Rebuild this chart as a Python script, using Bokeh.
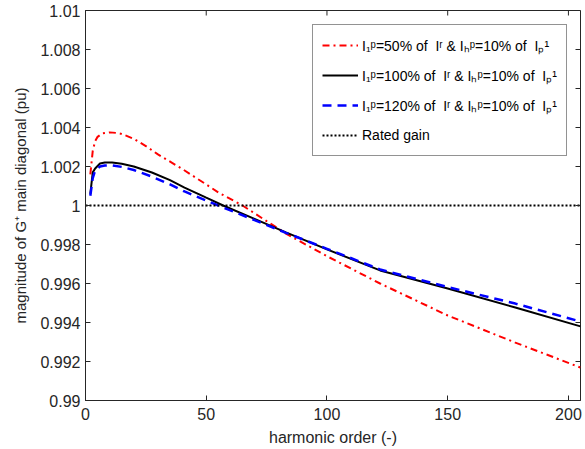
import math
from bokeh.plotting import figure
from bokeh.models import Legend, LegendItem, Range1d, FixedTicker
from bokeh.embed import file_html
from bokeh.resources import INLINE

# harmonic order and gain magnitude for each loading case
h_red = [2, 3, 4, 5, 7, 10, 13, 15, 20, 25, 30, 40, 50, 55, 65, 83, 100, 122, 150, 178, 205]
g_red = [1.0016, 1.0028, 1.0033, 1.00352, 1.00370, 1.00375, 1.00372, 1.00367, 1.00342,
         1.00305, 1.00262, 1.00188, 1.00108, 1.00067, 1.0, 0.99856, 0.99740, 0.99600,
         0.99436, 0.99297, 0.99169]

h_black = [2, 3, 4, 6, 8, 11, 15, 20, 27.5, 35, 41, 50, 57, 70, 83, 100, 122, 150, 178, 205]
g_black = [1.0006, 1.0017, 1.0019, 1.00215, 1.00220, 1.00221, 1.00214, 1.00200, 1.00169,
           1.00130, 1.00092, 1.00040, 1.0, 0.99931, 0.99862, 0.99775, 0.99667, 0.99574,
           0.99477, 0.99380]

h_blue = [2, 3, 4, 6, 8, 11, 15, 20, 27.5, 35, 41, 50, 55, 70, 83, 100, 122, 150, 178, 205]
g_blue = [1.0005, 1.0014, 1.0018, 1.00200, 1.00205, 1.00206, 1.00198, 1.00182, 1.00148,
          1.00108, 1.00072, 1.00025, 1.0, 0.99925, 0.99860, 0.99778, 0.99672, 0.99582,
          0.99497, 0.99405]

rated_h = [0, 205]
rated_g = [1.0, 1.0]

x_min, x_max = 0, 205
y_min, y_max = 0.99, 1.01
x_ticks = [0, 50, 100, 150, 200]
y_ticks = [0.99, 0.992, 0.994, 0.996, 0.998, 1.0, 1.002, 1.004, 1.006, 1.008, 1.01]
y_tick_labels = ["0.99", "0.992", "0.994", "0.996", "0.998", "1",
                 "1.002", "1.004", "1.006", "1.008", "1.01"]

legend_labels = [
    "I\u2081\u1D56=50% of  I\u02B3 & I\u2095\u1D56=10% of  I\u209A\u00B9",
    "I\u2081\u1D56=100% of  I\u02B3 & I\u2095\u1D56=10% of  I\u209A\u00B9",
    "I\u2081\u1D56=120% of  I\u02B3 & I\u2095\u1D56=10% of  I\u209A\u00B9",
    "Rated gain",
]

FONT = "Liberation Sans"
AX = "#262626"

p = figure(width=585, height=449, output_backend="svg", toolbar_location=None,
           x_range=Range1d(x_min, x_max), y_range=Range1d(y_min, y_max),
           min_border_left=85, min_border_right=5, min_border_top=10, min_border_bottom=49)
p.background_fill_color = "white"
p.border_fill_color = "white"
p.outline_line_color = AX
p.outline_line_width = 1
p.grid.visible = False

r_red = p.line(h_red, g_red, color="#ff0000", line_width=2, line_dash="7 4 2 4")
r_black = p.line(h_black, g_black, color="black", line_width=2)
r_blue = p.line(h_blue, g_blue, color="#0000ff", line_width=2.5, line_dash="9 6")
r_rated = p.line(rated_h, rated_g, color="black", line_width=2, line_dash="2 2")

for ax in (p.xaxis[0], p.yaxis[0]):
    ax.major_tick_in = 5
    ax.major_tick_out = 0
    ax.minor_tick_in = 0
    ax.minor_tick_out = 0
    ax.axis_line_color = AX
    ax.major_tick_line_color = AX
    ax.major_label_text_font = FONT
    ax.major_label_text_font_size = "16px"
    ax.major_label_text_color = AX
    ax.axis_label_text_font = FONT
    ax.axis_label_text_font_style = "normal"
    ax.axis_label_text_color = AX

p.xaxis[0].ticker = FixedTicker(ticks=x_ticks)
p.yaxis[0].ticker = FixedTicker(ticks=y_ticks)
p.yaxis[0].major_label_overrides = {t: s for t, s in zip(y_ticks, y_tick_labels)}
p.xaxis[0].axis_label = "harmonic order (-)"
p.yaxis[0].axis_label = "magnitude of G\u207A main diagonal (pu)"
p.xaxis[0].axis_label_text_font_size = "16px"
p.yaxis[0].axis_label_text_font_size = "15px"
p.xaxis[0].axis_label_standoff = 6
p.yaxis[0].axis_label_standoff = 8
p.xaxis[0].major_label_standoff = 7
p.yaxis[0].major_label_standoff = 5

# mirrored tick marks on the top and right edges of the box (half of each dash is clipped)
p.scatter([x_max] * len(y_ticks), y_ticks, marker="dash", size=10,
          line_color=AX, line_width=1)
p.scatter(x_ticks, [y_max] * len(x_ticks), marker="dash", size=10, angle=math.pi / 2,
          line_color=AX, line_width=1)

legend = Legend(items=[LegendItem(label=legend_labels[0], renderers=[r_red]),
                       LegendItem(label=legend_labels[1], renderers=[r_black]),
                       LegendItem(label=legend_labels[2], renderers=[r_blue]),
                       LegendItem(label=legend_labels[3], renderers=[r_rated])],
                location=(227, 244))
legend.label_text_font = FONT
legend.label_text_font_size = "14px"
legend.label_text_color = "black"
legend.glyph_width = 36
legend.glyph_height = 22
legend.label_height = 22
legend.label_standoff = 4
legend.spacing = 8
legend.padding = 9
legend.margin = 0
legend.border_line_color = AX
legend.border_line_width = 1
legend.background_fill_color = "white"
legend.background_fill_alpha = 1
p.add_layout(legend, "center")

open("out.html", "w").write(file_html(p, INLINE))
